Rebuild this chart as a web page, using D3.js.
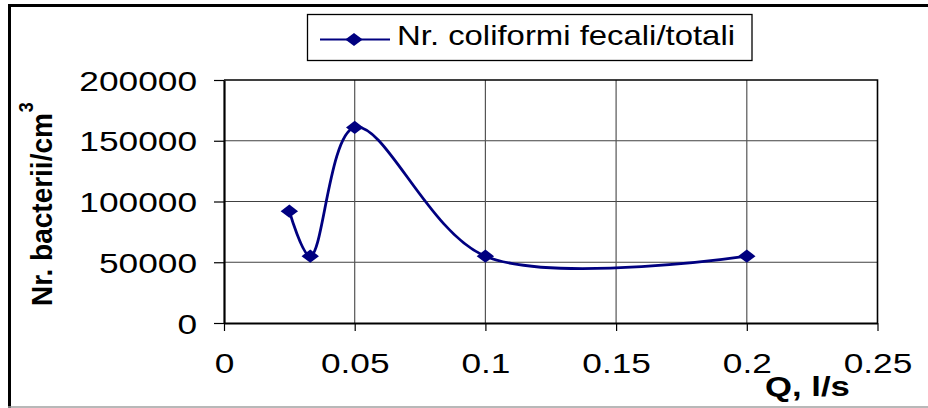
<!DOCTYPE html>
<html>
<head>
<meta charset="utf-8">
<script src="https://cdn.jsdelivr.net/npm/d3@7/dist/d3.min.js"></script>
<style>
  html, body { margin: 0; padding: 0; background: #fff; }
  svg { display: block; }
</style>
</head>
<body>
<script>
// Flow rate Q (l/s) against bacteria count
const flow = [0.025, 0.033, 0.05, 0.1, 0.2];
const bacteria = [92000, 55000, 161000, 55000, 55000];
const xTicks = [0, 0.05, 0.1, 0.15, 0.2, 0.25];
const yTicks = [0, 50000, 100000, 150000, 200000];
const seriesName = "Nr. coliformi fecali/totali";
const xTitle = "Q, l/s";
const yTitle = "Nr. bacterii/cm";
const yTitleSup = "3";

const W = 928, H = 408;
const FONT = "Arial, 'Liberation Sans', sans-serif";
const SX = 1.26;          // labels are drawn slightly wide
const NAVY = "#000080";

const svg = d3.select("body").append("svg")
  .attr("width", W).attr("height", H)
  .style("font-family", FONT);

const plot = { left: 224, right: 877.5, top: 80, bottom: 323 };
const x = d3.scaleLinear().domain([0, 0.25]).range([plot.left, plot.right]);
const y = d3.scaleLinear().domain([0, 200000]).range([plot.bottom, plot.top]);

// outer frame (top/left dark, bottom light)
svg.append("line").attr("x1", 8).attr("x2", W).attr("y1", 5.5).attr("y2", 5.5)
  .attr("stroke", "#000").attr("stroke-width", 3);
svg.append("line").attr("x1", 9.5).attr("x2", 9.5).attr("y1", 4).attr("y2", H)
  .attr("stroke", "#000").attr("stroke-width", 3);
svg.append("line").attr("x1", 8).attr("x2", W).attr("y1", 407).attr("y2", 407)
  .attr("stroke", "#a0a0a0").attr("stroke-width", 1.5);

// gridlines
svg.append("g").selectAll("line").data(yTicks.slice(1, -1)).join("line")
  .attr("x1", plot.left).attr("x2", plot.right)
  .attr("y1", d => y(d)).attr("y2", d => y(d))
  .attr("stroke", "#404040").attr("stroke-width", 1.2);
svg.append("g").selectAll("line").data(xTicks.slice(1, -1)).join("line")
  .attr("y1", plot.top).attr("y2", plot.bottom)
  .attr("x1", d => x(d)).attr("x2", d => x(d))
  .attr("stroke", "#555").attr("stroke-width", 1.2);

// plot area border (top / right)
svg.append("path")
  .attr("d", `M${plot.left},${plot.top}H${plot.right}V${plot.bottom}`)
  .attr("fill", "none").attr("stroke", "#000").attr("stroke-width", 1.6);

// y axis
const gy = svg.append("g").attr("transform", `translate(${plot.left},0)`)
  .call(d3.axisLeft(y).tickValues(yTicks).tickSize(10).tickSizeOuter(0)
    .tickFormat(d => String(d)));
gy.select(".domain").attr("stroke", "#000").attr("stroke-width", 2.2);
gy.selectAll(".tick line").attr("stroke", "#000").attr("stroke-width", 1.2);
gy.selectAll(".tick text")
  .attr("x", 0).attr("y", 0).attr("dy", null)
  .attr("text-anchor", "end")
  .attr("transform", `translate(-27,10) scale(${SX},1)`)
  .style("font-size", "28px").style("font-family", FONT).attr("fill", "#000");

// x axis
const gx = svg.append("g").attr("transform", `translate(0,${plot.bottom})`)
  .call(d3.axisBottom(x).tickValues(xTicks).tickSize(8).tickSizeOuter(0)
    .tickFormat(d => String(d)));
gx.select(".domain").attr("stroke", "#000").attr("stroke-width", 2.2);
gx.selectAll(".tick line").attr("stroke", "#000").attr("stroke-width", 1.2);
gx.selectAll(".tick text")
  .attr("x", 0).attr("y", 0).attr("dy", null)
  .attr("text-anchor", "middle")
  .attr("transform", `translate(0,50) scale(${SX},1)`)
  .style("font-size", "28px").style("font-family", FONT).attr("fill", "#000");

// axis titles
svg.append("text")
  .attr("transform", `translate(765,396) scale(1.24,1)`)
  .attr("font-size", 28).attr("font-weight", "bold").attr("fill", "#000")
  .text(xTitle);

const yt = svg.append("text")
  .attr("transform", `translate(51.5,306) rotate(-90) scale(1,1.08)`)
  .attr("font-size", 28).attr("font-weight", "bold").attr("fill", "#000");
yt.append("tspan").text(yTitle);
yt.append("tspan").attr("font-size", 18).attr("dx", 1).attr("dy", -17).text(yTitleSup);

// series: smoothed line through the measured points
const pts = flow.map((q, i) => [q, bacteria[i]]);
const line = d3.line().x(d => x(d[0])).y(d => y(d[1])).curve(d3.curveCatmullRom.alpha(0.5));

svg.append("path").datum(pts)
  .attr("d", line)
  .attr("fill", "none").attr("stroke", NAVY).attr("stroke-width", 2.8)
  .attr("stroke-linejoin", "round");

const diamond = (cx, cy) => `M${cx},${cy - 6.6}L${cx + 8.7},${cy}L${cx},${cy + 6.6}L${cx - 8.7},${cy}Z`;
svg.append("g").selectAll("path").data(pts).join("path")
  .attr("d", d => diamond(x(d[0]), y(d[1])))
  .attr("fill", NAVY);

// legend
const lg = svg.append("g");
lg.append("rect").attr("x", 307.5).attr("y", 14.5).attr("width", 444.5).attr("height", 46)
  .attr("fill", "#fff").attr("stroke", "#000").attr("stroke-width", 1.3);
lg.append("line").attr("x1", 320).attr("x2", 390).attr("y1", 39.5).attr("y2", 39.5)
  .attr("stroke", NAVY).attr("stroke-width", 2.2);
lg.append("path").attr("d", diamond(354, 39.5)).attr("fill", NAVY);
lg.append("text").attr("x", 397).attr("y", 45)
  .attr("font-size", 28).attr("fill", "#000")
  .attr("textLength", 338).attr("lengthAdjust", "spacingAndGlyphs")
  .text(seriesName);
</script>
</body>
</html>
